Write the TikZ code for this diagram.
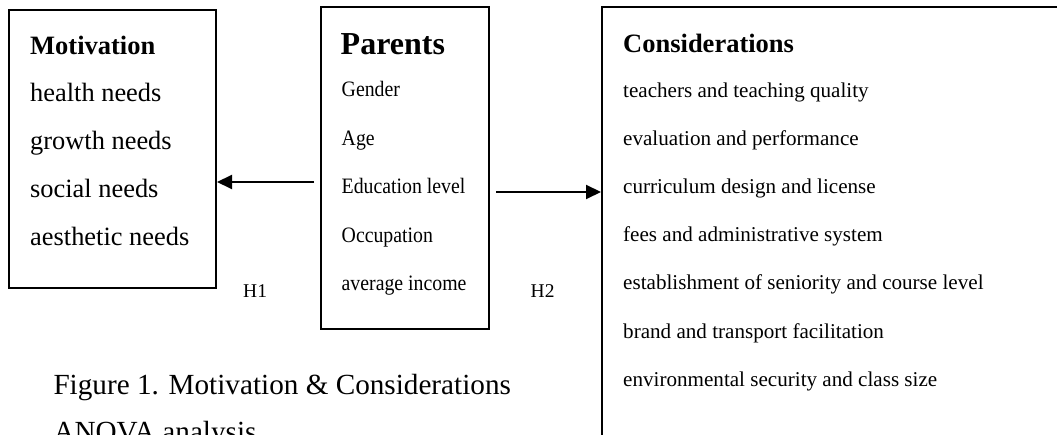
\documentclass[tikz,border=0pt]{standalone}
\usepackage{fontspec}
\setmainfont{Liberation Serif}
\newfontfamily\narrowfont[FakeStretch=0.9]{Liberation Serif}
\usetikzlibrary{arrows.meta}
\tikzset{
  box/.style={draw, line width=2pt, inner sep=0pt},
  txt/.style={anchor=base west, inner sep=0pt},
  ttl/.style={txt, font=\fontsize{26.5pt}{30pt}\selectfont\bfseries},
  mitem/.style={txt, font=\fontsize{26.4pt}{30pt}\selectfont},
  pitem/.style={txt, font=\narrowfont\fontsize{22pt}{26pt}\selectfont},
  citem/.style={txt, font=\fontsize{21.1pt}{25pt}\selectfont},
  hlab/.style={txt, font=\fontsize{19.5pt}{23pt}\selectfont},
  captxt/.style={txt, font=\fontsize{29.2pt}{34pt}\selectfont},
  arr/.style={line width=2pt, -{Triangle[length=15pt,width=14pt]}}
}
\begin{document}
\begin{tikzpicture}[x=1pt,y=-1pt]
\useasboundingbox (0,0) rectangle (1057,435);
\clip (0,0) rectangle (1057,435);
% boxes
\node[box, minimum width=207pt, minimum height=278pt] (mot) at (112.5,149) {};
\node[box, minimum width=168pt, minimum height=322pt] (par) at (405,168) {};
\node[box, minimum width=470pt, minimum height=460pt] (con) at (837,237) {};
% Motivation
\node[ttl] (mt) at (30,55) {Motivation};
\node[mitem] (m1) at (30,102) {health needs};
\node[mitem] (m2) at (30,150) {growth needs};
\node[mitem] (m3) at (30,198) {social needs};
\node[mitem] (m4) at (30,246) {aesthetic needs};
% Parents
\node[txt, font=\fontsize{32pt}{36pt}\selectfont\bfseries] (pt) at (340.5,55) {Parents};
\node[pitem] (p1) at (341.5,97) {Gender};
\node[pitem] (p2) at (341.5,146) {Age};
\node[pitem] (p3) at (341.5,194) {Education level};
\node[pitem] (p4) at (341.5,243) {Occupation};
\node[pitem] (p5) at (341.5,291) {average income};
% Considerations
\node[ttl] (ct) at (623,53) {Considerations};
\node[citem] (c1) at (623,98) {teachers and teaching quality};
\node[citem] (c2) at (623,146) {evaluation and performance};
\node[citem] (c3) at (623,194) {curriculum design and license};
\node[citem] (c4) at (623,242) {fees and administrative system};
\node[citem] (c5) at (623,290) {establishment of seniority and course level};
\node[citem] (c6) at (623,338) {brand and transport facilitation};
\node[citem] (c7) at (623,386) {environmental security and class size};
% labels
\node[hlab] (h1) at (243,298) {H1};
\node[hlab] (h2) at (530.5,298) {H2};
% caption
\node[captxt] (f1) at (53.3,394) {Figure 1. Motivation \& Considerations};
\node[captxt] (f2) at (53.3,441) {ANOVA analysis};
% arrows
\coordinate (y1) at (0,182);
\coordinate (y2) at (0,192);
\draw[arr, shorten <=6pt] (par.west |- y1) -- (mot.east |- y1);
\draw[arr, shorten <=6pt] (par.east |- y2) -- (con.west |- y2);
\end{tikzpicture}
\end{document}
